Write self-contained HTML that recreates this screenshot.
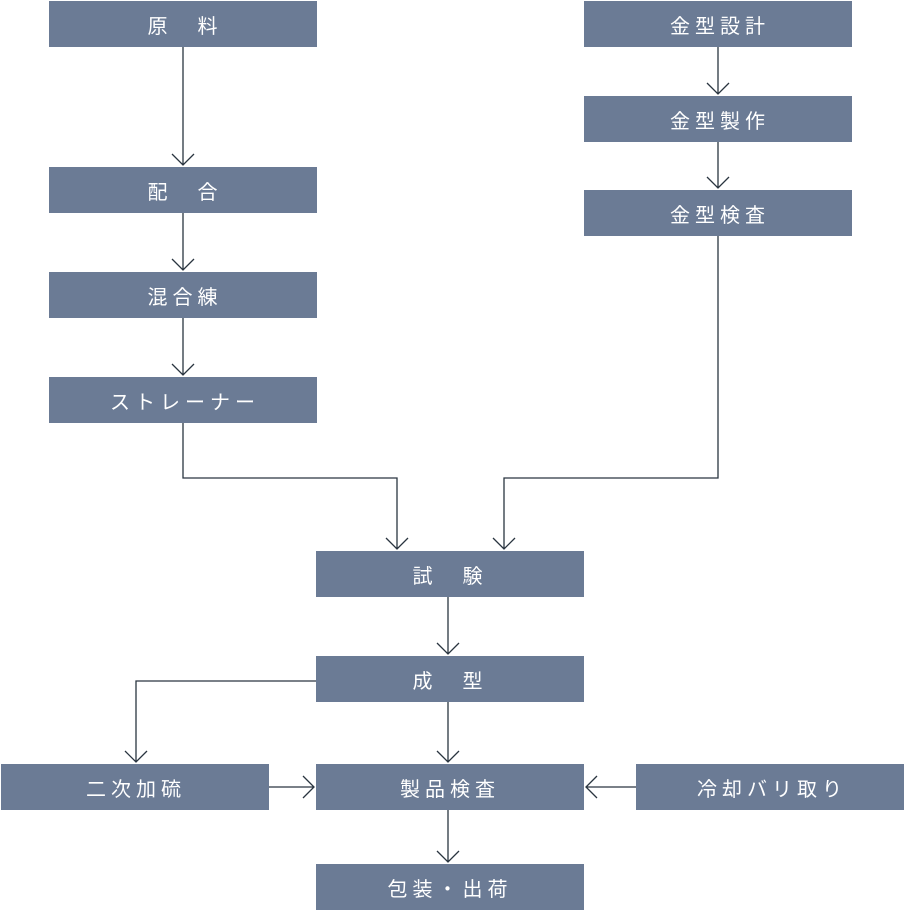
<!DOCTYPE html>
<html><head><meta charset="utf-8"><style>
html,body{margin:0;padding:0;background:#fff;}
svg{display:block;}
text{font-family:"Liberation Sans","Noto Sans CJK JP",sans-serif;font-size:20px;fill:#fff;letter-spacing:5px;}
</style></head><body>
<svg width="905" height="921" viewBox="0 0 905 921" xmlns="http://www.w3.org/2000/svg">
<g fill="#6b7b95">
<rect x="49" y="1" width="268" height="46"/>
<rect x="49" y="167" width="268" height="46"/>
<rect x="49" y="272" width="268" height="46"/>
<rect x="49" y="377" width="268" height="46"/>
<rect x="584" y="1" width="268" height="46"/>
<rect x="584" y="96" width="268" height="46"/>
<rect x="584" y="190" width="268" height="46"/>
<rect x="316" y="551" width="268" height="46"/>
<rect x="316" y="656" width="268" height="46"/>
<rect x="1" y="764" width="268" height="46"/>
<rect x="316" y="764" width="268" height="46"/>
<rect x="636" y="764" width="268" height="46"/>
<rect x="316" y="864" width="268" height="46"/>
</g>
<g text-anchor="middle" dominant-baseline="central">
<text x="185" y="27">原　料</text>
<text x="185" y="193">配　合</text>
<text x="185" y="298">混合練</text>
<text x="185" y="403">ストレーナー</text>
<text x="720" y="27">金型設計</text>
<text x="720" y="122">金型製作</text>
<text x="720" y="216">金型検査</text>
<text x="450" y="577">試　験</text>
<text x="450" y="682">成　型</text>
<text x="136" y="790">二次加硫</text>
<text x="450" y="790">製品検査</text>
<text x="772" y="790">冷却バリ取り</text>
<text x="450" y="890">包装・出荷</text>
</g>
<g stroke="#2a3540" stroke-width="1.3" fill="none">
<path d="M183 47V165M172 154L183 165L194 154"/>
<path d="M183 213V270M172 259L183 270L194 259"/>
<path d="M183 318V375M172 364L183 375L194 364"/>
<path d="M718 47V94M707 83L718 94L729 83"/>
<path d="M718 142V188M707 177L718 188L729 177"/>
<path d="M183 423V478H397V549M386 538L397 549L408 538"/>
<path d="M718 236V478H504V549M493 538L504 549L515 538"/>
<path d="M448 597V654M437 643L448 654L459 643"/>
<path d="M316 681H136V762M125 751L136 762L147 751"/>
<path d="M448 702V762M437 751L448 762L459 751"/>
<path d="M269 787H314M303 776L314 787L303 798"/>
<path d="M636 787H586M597 776L586 787L597 798"/>
<path d="M448 810V862M437 851L448 862L459 851"/>
</g>
</svg>
</body></html>
